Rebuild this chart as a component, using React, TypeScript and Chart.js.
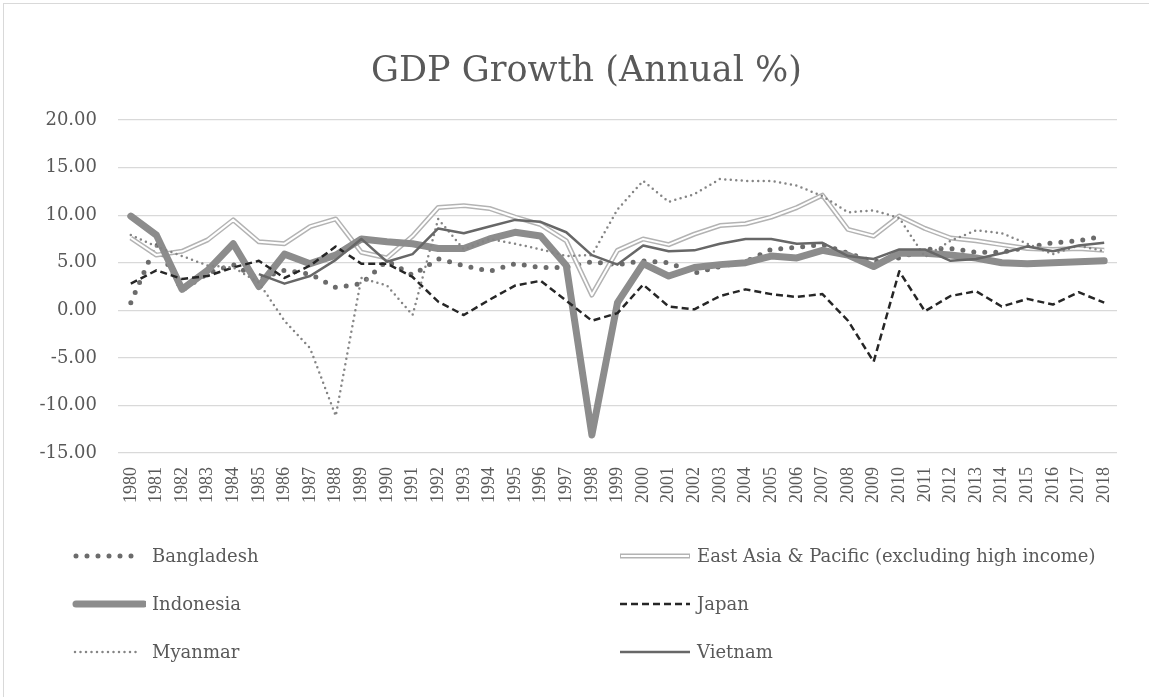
import React, { useEffect, useRef } from "react";
import { Chart, registerables } from "chart.js";

Chart.register(...registerables);

const years = [
  "1980", "1981", "1982", "1983", "1984", "1985", "1986", "1987", "1988", "1989",
  "1990", "1991", "1992", "1993", "1994", "1995", "1996", "1997", "1998", "1999",
  "2000", "2001", "2002", "2003", "2004", "2005", "2006", "2007", "2008", "2009",
  "2010", "2011", "2012", "2013", "2014", "2015", "2016", "2017", "2018",
];

const bangladesh = [
  0.8, 7.0, 2.1, 3.9, 4.8, 3.3, 4.2, 3.8, 2.4, 2.8,
  5.2, 3.7, 5.4, 4.7, 4.1, 4.9, 4.5, 4.5, 5.1, 4.8,
  5.2, 5.0, 3.9, 4.6, 5.1, 6.4, 6.6, 6.9, 6.0, 5.1,
  5.5, 6.4, 6.5, 6.1, 6.1, 6.6, 7.1, 7.3, 7.8,
];

const eastAsia = [
  7.6, 5.8, 6.2, 7.4, 9.5, 7.2, 7.0, 8.8, 9.6, 6.1,
  5.5, 7.8, 10.8, 11.0, 10.7, 9.8, 9.0, 7.3, 1.6, 6.3,
  7.5, 6.9, 8.0, 8.9, 9.1, 9.8, 10.8, 12.1, 8.5, 7.8,
  9.9, 8.6, 7.6, 7.3, 6.9, 6.5, 6.4, 6.5, 6.3,
];

const indonesia = [
  9.9, 7.9, 2.2, 4.2, 7.0, 2.5, 5.9, 4.9, 5.8, 7.5,
  7.2, 7.0, 6.5, 6.5, 7.5, 8.2, 7.8, 4.7, -13.1, 0.8,
  4.9, 3.6, 4.5, 4.8, 5.0, 5.7, 5.5, 6.3, 5.8, 4.6,
  6.0, 6.0, 5.8, 5.5, 5.0, 4.9, 5.0, 5.1, 5.2,
];

const japan = [
  2.8, 4.2, 3.3, 3.6, 4.5, 5.2, 3.4, 4.7, 6.7, 4.9,
  4.9, 3.5, 0.9, -0.5, 1.1, 2.6, 3.1, 1.0, -1.1, -0.3,
  2.7, 0.4, 0.1, 1.5, 2.2, 1.7, 1.4, 1.7, -1.1, -5.4,
  4.1, -0.1, 1.5, 2.0, 0.4, 1.2, 0.6, 1.9, 0.8,
];

const myanmar = [
  7.9, 6.7, 5.7, 4.7, 4.5, 2.9, -1.1, -4.0, -11.1, 3.4,
  2.6, -0.5, 9.6, 6.4, 7.5, 7.0, 6.4, 5.7, 5.8, 10.6,
  13.6, 11.4, 12.2, 13.8, 13.6, 13.6, 13.1, 12.0, 10.3, 10.5,
  9.7, 5.6, 7.3, 8.4, 8.1, 7.0, 5.9, 6.8, 6.2,
];

const vietnam = [
  null, null, null, null, null, 3.8, 2.8, 3.6, 5.3, 7.5,
  5.1, 5.9, 8.6, 8.1, 8.8, 9.5, 9.3, 8.2, 5.8, 4.8,
  6.8, 6.2, 6.3, 7.0, 7.5, 7.5, 7.0, 7.1, 5.7, 5.4,
  6.4, 6.4, 5.2, 5.4, 6.0, 6.7, 6.2, 6.8, 7.1,
];

const yTicks = [-15, -10, -5, 0, 5, 10, 15, 20];

const TEXT = "#595959";
const C_BGD = "#6b6b6b";
const C_EAP = "#b3b3b3";
const C_IDN = "#8c8c8c";
const C_JPN = "#262626";
const C_MMR = "#858585";
const C_VNM = "#676767";

type Sym = { kind: string };

function LegendSymbol({ kind }: Sym) {
  const w = 74;
  const h = 14;
  const y = h / 2;
  if (kind === "bgd")
    return (
      <svg width={w} height={h}>
        <line x1={4} x2={70} y1={y} y2={y} stroke={C_BGD} strokeWidth={5} strokeLinecap="round" strokeDasharray="0 11" />
      </svg>
    );
  if (kind === "eap")
    return (
      <svg width={w} height={h}>
        <line x1={2} x2={72} y1={y} y2={y} stroke={C_EAP} strokeWidth={5} />
        <line x1={3} x2={71} y1={y} y2={y} stroke="#ffffff" strokeWidth={2} />
      </svg>
    );
  if (kind === "idn")
    return (
      <svg width={w} height={h}>
        <line x1={4} x2={72} y1={y} y2={y} stroke={C_IDN} strokeWidth={7} strokeLinecap="round" />
      </svg>
    );
  if (kind === "jpn")
    return (
      <svg width={w} height={h}>
        <line x1={2} x2={72} y1={y} y2={y} stroke={C_JPN} strokeWidth={2.5} strokeDasharray="7 4" />
      </svg>
    );
  if (kind === "mmr")
    return (
      <svg width={w} height={h}>
        <line x1={3} x2={68} y1={y} y2={y} stroke={C_MMR} strokeWidth={2.5} strokeLinecap="round" strokeDasharray="0 5.5" />
      </svg>
    );
  return (
    <svg width={w} height={h}>
      <line x1={2} x2={72} y1={y} y2={y} stroke={C_VNM} strokeWidth={2.5} />
    </svg>
  );
}

const legendItems = [
  { label: "Bangladesh", kind: "bgd", col: 0, row: 0 },
  { label: "East Asia & Pacific (excluding high income)", kind: "eap", col: 1, row: 0 },
  { label: "Indonesia", kind: "idn", col: 0, row: 1 },
  { label: "Japan", kind: "jpn", col: 1, row: 1 },
  { label: "Myanmar", kind: "mmr", col: 0, row: 2 },
  { label: "Vietnam", kind: "vnm", col: 1, row: 2 },
];

const titleCenterPlugin = {
  id: "titleCenter",
  afterLayout(chart: any) {
    const tb = chart.titleBlock;
    if (tb) {
      tb.left = 56;
      tb.right = 1117;
      tb.width = 1117 - 56;
    }
  },
};

export default function App() {
  const ref = useRef<HTMLCanvasElement | null>(null);

  useEffect(() => {
    document.body.style.overflow = "hidden";
    const canvas = ref.current;
    if (!canvas) return;
    const line = (label: string, data: (number | null)[], color: string, width: number, order: number, extra: any = {}) => ({
      label,
      data,
      borderColor: color,
      backgroundColor: color,
      borderWidth: width,
      pointRadius: 0,
      pointHoverRadius: 0,
      tension: 0,
      fill: false,
      order,
      borderJoinStyle: "round",
      ...extra,
    });
    const chart = new Chart(canvas, {
      type: "line",
      data: {
        labels: years,
        datasets: [
          line("Bangladesh", bangladesh, C_BGD, 5, 8, { borderDash: [0, 11], borderCapStyle: "round" }),
          line("East Asia & Pacific (excluding high income)", eastAsia, C_EAP, 5, 7),
          line("East Asia & Pacific inner", eastAsia, "#ffffff", 2, 6),
          line("Indonesia", indonesia, C_IDN, 7, 5, { borderCapStyle: "round" }),
          line("Japan", japan, C_JPN, 2.5, 4, { borderDash: [7, 4] }),
          line("Myanmar", myanmar, C_MMR, 2.5, 3, { borderDash: [0, 5.5], borderCapStyle: "round" }),
          line("Vietnam", vietnam, C_VNM, 2.5, 2),
        ],
      },
      plugins: [titleCenterPlugin],
      options: {
        animation: false,
        responsive: false,
        events: [],
        layout: { padding: { left: 0, right: 32, top: 0, bottom: 154 } },
        plugins: {
          legend: { display: false },
          tooltip: { enabled: false },
          title: {
            display: true,
            text: "GDP Growth (Annual %)",
            color: TEXT,
            font: { family: "DejaVu Serif", size: 35, weight: "normal", lineHeight: 1.2 },
            padding: { top: 51, bottom: 27 },
          },
        },
        scales: {
          x: {
            offset: true,
            grid: { display: false, drawTicks: false },
            border: { display: false },
            ticks: {
              color: TEXT,
              font: { family: "Liberation Serif", size: 18 },
              minRotation: 90,
              maxRotation: 90,
              autoSkip: false,
              padding: 14,
            },
            afterFit: (s: any) => {
              s.height = 90;
            },
          },
          y: {
            min: -15,
            max: 20,
            grid: { color: "#d9d9d9", lineWidth: 1.2, drawTicks: false },
            border: { display: false },
            afterBuildTicks: (s: any) => {
              s.ticks = yTicks.map((v) => ({ value: v }));
            },
            ticks: {
              color: TEXT,
              font: { family: "DejaVu Serif", size: 18 },
              padding: 21,
              callback: (v: any) => Number(v).toFixed(2),
            },
            afterFit: (s: any) => {
              s.width = 118;
            },
          },
        },
      },
    } as any);
    return () => chart.destroy();
  }, []);

  const rowY = [556, 604, 652];
  const colSym = [72, 618];
  const colText = [152, 697];

  return (
    <div style={{ position: "fixed", left: 0, top: 0, width: 1149, height: 697, overflow: "hidden", background: "#ffffff" }}>
      <div
        style={{
          position: "absolute",
          left: 3,
          top: 3,
          width: 1170,
          height: 730,
          border: "1px solid #d9d9d9",
          boxSizing: "border-box",
        }}
      />
      <canvas ref={ref} width={1149} height={697} style={{ position: "absolute", left: 0, top: 0, width: 1149, height: 697 }} />
      {legendItems.map((it) => (
        <React.Fragment key={it.label}>
          <div style={{ position: "absolute", left: colSym[it.col], top: rowY[it.row] - 7, width: 74, height: 14, lineHeight: 0 }}>
            <LegendSymbol kind={it.kind} />
          </div>
          <div
            style={{
              position: "absolute",
              left: colText[it.col],
              top: rowY[it.row] - 12,
              height: 24,
              lineHeight: "24px",
              fontFamily: "DejaVu Serif",
              fontSize: 18,
              color: TEXT,
              whiteSpace: "nowrap",
            }}
          >
            {it.label}
          </div>
        </React.Fragment>
      ))}
    </div>
  );
}
